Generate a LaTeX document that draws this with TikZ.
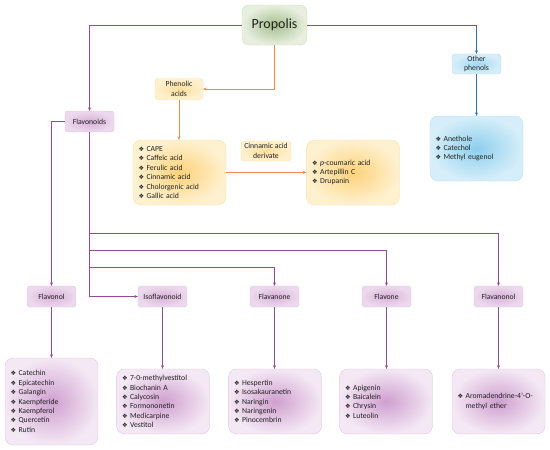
\documentclass[tikz,border=0pt]{standalone}
\usepackage{fontspec}
\setmainfont{Carlito}
\newfontfamily\symfont{DejaVu Sans}
\usetikzlibrary{arrows.meta}

\definecolor{txt}{HTML}{222222}
\definecolor{pline}{HTML}{934C93}
\definecolor{pin}{HTML}{CF9FCF}
\definecolor{pout}{HTML}{F4E8F4}
\definecolor{pbord}{HTML}{DCC0DC}
\definecolor{oline}{HTML}{F4884A}
\definecolor{oin}{HTML}{FDD27A}
\definecolor{oout}{HTML}{FEF1D0}
\definecolor{obord}{HTML}{F8DFA6}
\definecolor{bline}{HTML}{2E74B5}
\definecolor{bin}{HTML}{8ECFEE}
\definecolor{bout}{HTML}{D6EEF9}
\definecolor{bbord}{HTML}{B5DDF2}
\definecolor{gin}{HTML}{A5BF8E}
\definecolor{gout}{HTML}{E8EFDF}
\definecolor{gbord}{HTML}{CBD8BC}

\newcommand{\itm}{{\symfont\fontsize{6.2}{6.2}\selectfont ❖}\hspace{2.5pt}}

\begin{document}
\begin{tikzpicture}[x=1pt,y=-1pt,
    every node/.style={font=\fontsize{7.7}{9.4}\selectfont,text=txt},
    box/.style={rounded corners=8pt,line width=0.3pt,minimum height=65pt,
      text width=82pt,inner xsep=5.5pt,align=left},
    tag/.style={rounded corners=3pt,line width=0.3pt,minimum width=49pt,
      minimum height=21pt,inner sep=1pt,align=center},
    pbox/.style={box,draw=pbord,shading=radial,inner color=pin,outer color=pout},
    obox/.style={box,draw=obord,shading=radial,inner color=oin,outer color=oout},
    bbox/.style={box,draw=bbord,shading=radial,inner color=bin,outer color=bout},
    ptag/.style={tag,draw=pbord,shading=radial,inner color=pin!75!pout,outer color=pout!80!pin},
    otag/.style={tag,draw=obord,shading=radial,inner color=oin!60!oout,outer color=oout},
    btag/.style={tag,draw=bbord,shading=radial,inner color=bin!70!bout,outer color=bout},
    link/.style={line width=0.8pt,-{Stealth[length=3.5pt,width=3pt]}},
    plink/.style={link,pline},
    olink/.style={link,oline},
    blink/.style={link,bline}]
  \useasboundingbox (0,0) rectangle (550,450);

  \node[rounded corners=7pt,line width=0.3pt,draw=gbord,shading=radial,
    inner color=gin,outer color=gout,minimum width=65pt,minimum height=40pt,
    font=\fontsize{14}{16}\selectfont] (prop) at (274.5,25) {Propolis};

  % phenolic acids
  \node[otag,minimum width=48pt] (phen) at (179,89) {Phenolic\\acids};
  \node[obox] (ac1) at (179.5,172.5) {\itm CAPE\\\itm Caffeic acid\\\itm Ferulic acid\\
    \itm Cinnamic acid\\\itm Cholorgenic acid\\\itm Gallic acid};
  \node[otag,minimum width=50pt,minimum height=20pt] (cin) at (266,151) {Cinnamic acid\\derivate};
  \node[obox] (ac2) at (353,172.5) {\itm \textit{p}-coumaric acid\\\itm Artepillin C\\\itm Drupanin};

  % other phenols
  \node[btag,minimum height=20pt] (oth) at (476.5,64) {Other\\phenols};
  \node[bbox] (oph) at (476.5,148.5) {\itm Anethole\\\itm Catechol\\\itm Methyl eugenol};

  % flavonoids
  \node[ptag] (fls) at (89.5,121.5) {Flavonoids};
  \foreach \n/\x/\t in {fvol/51.5/Flavonol,iso/162.5/Isoflavonoid,fnon/274.5/Flavanone,
      fone/386.5/Flavone,fnol/498.5/Flavanonol}
    \node[ptag] (\n) at (\x,296.5) {\t};

  \node[pbox,minimum height=87pt] (l1) at (51.5,401.5) {\itm Catechin\\\itm Epicatechin\\
    \itm Galangin\\\itm Kaempferide\\\itm Kaempferol\\\itm Quercetin\\\itm Rutin};
  \node[pbox] (l2) at (163,401.5) {\itm 7-0-methylvestitol\\\itm Biochanin A\\
    \itm Calycosin\\\itm Formononetin\\\itm Medicarpine\\\itm Vestitol};
  \node[pbox] (l3) at (275,401.5) {\itm Hespertin\\\itm Isosakauranetin\\
    \itm Naringin\\\itm Naringenin\\\itm Pinocembrin};
  \node[pbox] (l4) at (386,401.5) {\itm Apigenin\\\itm Baicalein\\\itm Chrysin\\\itm Luteolin};
  \node[pbox] (l5) at (498.5,401.5) {\itm Aromadendrine-4’-O-\\\phantom{\itm}methyl ether};

  \draw[plink] (prop.west) -| (fls.north);
  \draw[olink] (prop.south) |- (phen.east);
  \draw[olink] (phen.south) -- (phen.south |- ac1.north);
  \draw[olink] (ac1.east) -- (ac2.west);
  \draw[blink] (prop.east) -| (oth.north);
  \draw[blink] (oth.south) -- (oph.north);

  \draw[plink] (fls.west) -| (fvol.north);
  \draw[plink] (fls.south) |- (iso.west);
  \draw[plink] (fls.south |- 0,267.5) -| (fnon.north);
  \draw[plink] (fls.south |- 0,250.5) -| (fone.north);
  \draw[plink] (fls.south |- 0,233.5) -| (fnol.north);
  \foreach \a/\b in {fvol/l1,iso/l2,fnon/l3,fone/l4,fnol/l5}
    \draw[plink] (\a.south) -- (\a.south |- \b.north);
\end{tikzpicture}
\end{document}
